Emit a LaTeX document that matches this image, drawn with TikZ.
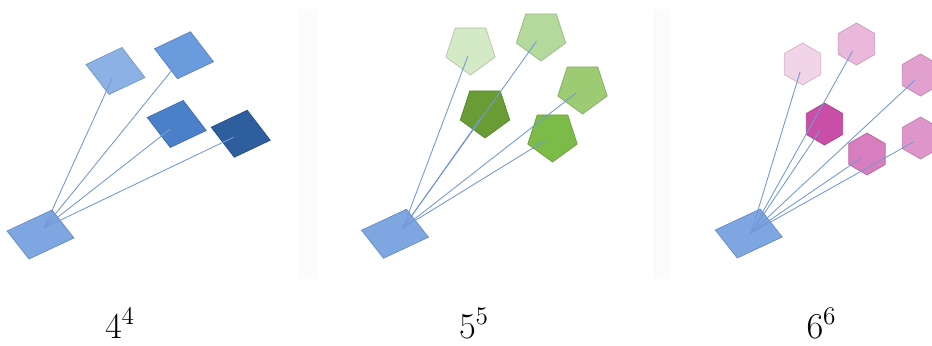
\documentclass[tikz,border=0pt]{standalone}
\usepackage{amssymb,amsmath}
\usetikzlibrary{shapes.geometric}

\definecolor{baseblue}{HTML}{7EA6E0}
\definecolor{linkblue}{HTML}{7399D6}
\definecolor{sqA}{HTML}{8CB2E5}
\definecolor{sqB}{HTML}{6A9BDD}
\definecolor{sqC}{HTML}{4A80C8}
\definecolor{sqD}{HTML}{2E5E9E}
\definecolor{penA}{HTML}{D4E9C5}
\definecolor{penB}{HTML}{B4D99C}
\definecolor{penC}{HTML}{6A9C35}
\definecolor{penD}{HTML}{9CCB73}
\definecolor{penE}{HTML}{7CBB48}
\definecolor{hexA}{HTML}{F2D4E9}
\definecolor{hexB}{HTML}{E9B8DB}
\definecolor{hexC}{HTML}{E2A0CF}
\definecolor{hexD}{HTML}{C94EA5}
\definecolor{hexE}{HTML}{D87DBD}
\definecolor{hexF}{HTML}{DE95C9}
\definecolor{edgegray}{HTML}{FBFBFB}

\tikzset{
  tile/.style={draw=#1!85!black, fill=#1, line width=0.4pt},
  pent/.style={regular polygon, regular polygon sides=5, rotate=180, minimum size=1.04cm,
               inner sep=0pt, draw=#1!85!black, fill=#1, line width=0.4pt},
  hexa/.style={regular polygon, regular polygon sides=6, rotate=30, minimum size=0.84cm,
               inner sep=0pt, draw=#1!85!black, fill=#1, line width=0.4pt},
  link/.style={linkblue, line width=0.5pt, shorten >=4.5pt},
  power/.style={anchor=base, font=\fontsize{21}{25}\selectfont}
}

\begin{document}
\begin{tikzpicture}[x=0.02cm, y=-0.02cm]

\useasboundingbox (0,0) rectangle (932,345);

% faint panel edges
\fill[edgegray] (299,9) rectangle (317,279);
\fill[edgegray] (653,9) rectangle (670,279);

% first panel: squares
\filldraw[tile=baseblue] (7,231) -- ++(45,-21) -- ++(22,28) -- ++(-45,21) -- cycle;
\filldraw[tile=sqA] (86,64.5) -- ++(36,-17) -- ++(23,30) -- ++(-36,17) -- cycle;
\filldraw[tile=sqB] (154.5,48.75) -- ++(36,-17) -- ++(23,30) -- ++(-36,17) -- cycle;
\filldraw[tile=sqC] (147.25,117.5) -- ++(36,-17) -- ++(23,30) -- ++(-36,17) -- cycle;
\filldraw[tile=sqD] (211.25,127.25) -- ++(36,-17) -- ++(23,30) -- ++(-36,17) -- cycle;

\coordinate (rootA) at (44,228);
\coordinate (sqA) at (115.5,71);
\coordinate (sqB) at (184,55.25);
\coordinate (sqC) at (176.75,124);
\coordinate (sqD) at (240.75,133.75);

\draw[link] (rootA) -- (sqA);
\draw[link] (rootA) -- (sqB);
\draw[link] (rootA) -- (sqC);
\draw[link] (rootA) -- (sqD);

% second panel: pentagons
\filldraw[tile=baseblue] (361.5,230.25) -- ++(45,-21) -- ++(22,28) -- ++(-45,21) -- cycle;
\coordinate (rootB) at (403,228);

\node[pent=penA] (penA) at (470.5,49) {};
\node[pent=penB] (penB) at (541,35) {};
\node[pent=penC] (penC) at (485,112) {};
\node[pent=penD] (penD) at (582.5,88) {};
\node[pent=penE] (penE) at (552.5,136) {};

\draw[link] (rootB) -- (penA.center);
\draw[link] (rootB) -- (penB.center);
\draw[link] (rootB) -- (penC.center);
\draw[link] (rootB) -- (penD.center);
\draw[link] (rootB) -- (penE.center);

% third panel: hexagons
\filldraw[tile=baseblue] (715.25,230) -- ++(45,-21) -- ++(22,28) -- ++(-45,21) -- cycle;
\coordinate (rootC) at (751,233);

\node[hexa=hexA] (hexA) at (802.5,64) {};
\node[hexa=hexB] (hexB) at (856.5,44) {};
\node[hexa=hexC] (hexC) at (920.5,75) {};
\node[hexa=hexD] (hexD) at (824.5,124) {};
\node[hexa=hexE] (hexE) at (867,154) {};
\node[hexa=hexF] (hexF) at (920.5,138) {};

\draw[link] (rootC) -- (hexA.center);
\draw[link] (rootC) -- (hexB.center);
\draw[link] (rootC) -- (hexC.center);
\draw[link] (rootC) -- (hexD.center);
\draw[link] (rootC) -- (hexE.center);
\draw[link] (rootC) -- (hexF.center);

% labels
\node[power] (lblA) at (120,338) {$4^4$};
\node[power] (lblB) at (474,338) {$5^5$};
\node[power] (lblC) at (821.5,338) {$6^6$};

\end{tikzpicture}
\end{document}
